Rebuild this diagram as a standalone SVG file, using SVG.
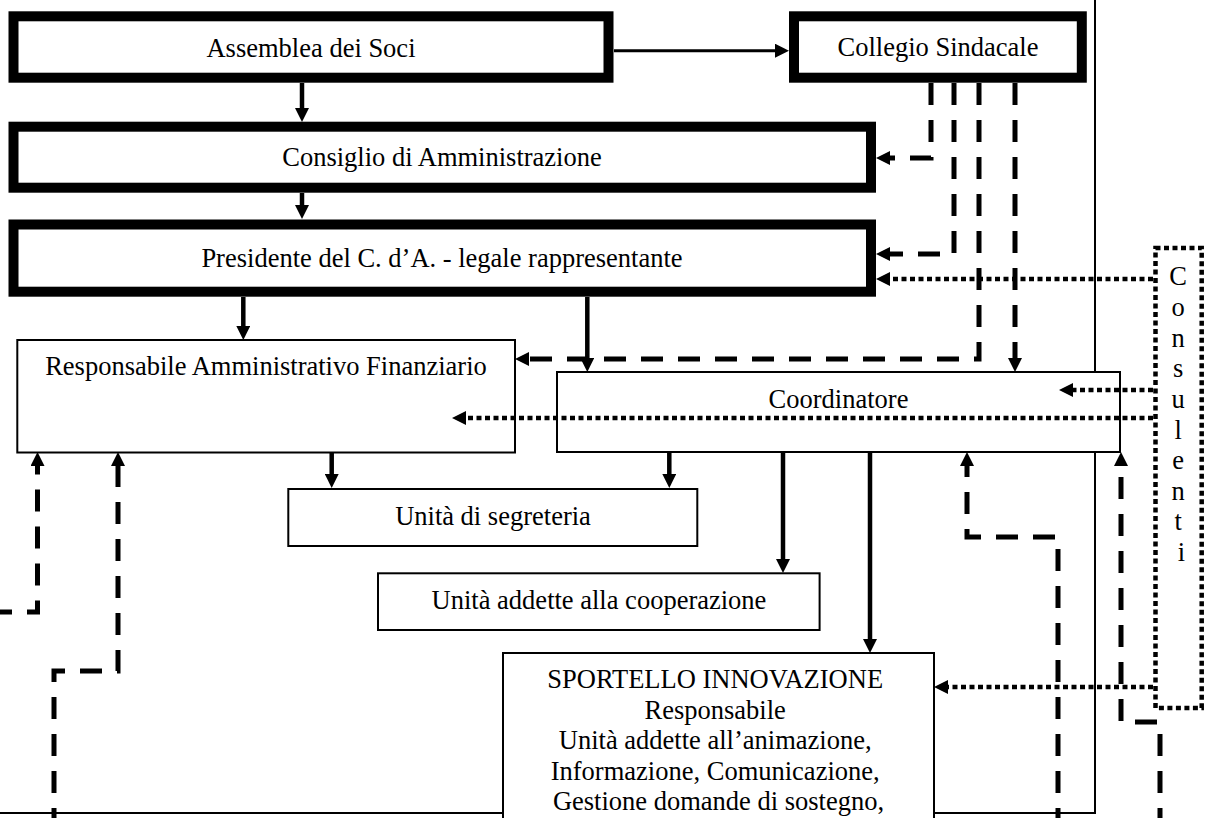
<svg xmlns="http://www.w3.org/2000/svg" width="1211" height="818" viewBox="0 0 1211 818">
<style>
  .thick { fill: #fff; stroke: #000; stroke-width: 10; }
  .thin { fill: #fff; stroke: #000; stroke-width: 2; }
  .lbl { font-family: "Liberation Serif", "Times New Roman", serif; font-size: 26.5px; fill: #000; text-anchor: middle; }
  .solid { fill: none; stroke: #000; stroke-width: 4.5; marker-end: url(#ah); }
  .solidthin { fill: none; stroke: #000; stroke-width: 3; marker-end: url(#ah); }
  .dash { fill: none; stroke: #000; stroke-width: 5; stroke-dasharray: 22 15; marker-end: url(#ah); }
  .dot { fill: none; stroke: #000; stroke-width: 4.5; stroke-dasharray: 5 3.5; marker-end: url(#ah); }
  .frame { fill: none; stroke: #000; stroke-width: 2; }
</style>
<defs>
  <marker id="ah" markerUnits="userSpaceOnUse" markerWidth="14" markerHeight="14" viewBox="0 0 14 14" refX="1" refY="7" orient="auto">
    <path d="M0,0 L14,7 L0,14 z" fill="#000" stroke="none"/>
  </marker>
</defs>
<rect width="1211" height="818" fill="#fff"/>
<g id="frame">
  <path class="frame" d="M1095,-5 V813 H-5"/>
</g>
<g id="assemblea">
  <rect class="thick" x="13.5" y="16.3" width="595" height="61.4"/>
  <text class="lbl" x="311" y="56.5">Assemblea dei Soci</text>
</g>
<g id="collegio">
  <rect class="thick" x="794" y="16.3" width="287.8" height="61.4"/>
  <text class="lbl" x="938" y="56">Collegio Sindacale</text>
</g>
<g id="consiglio">
  <rect class="thick" x="13.5" y="126.7" width="857.5" height="61"/>
  <text class="lbl" x="442" y="166">Consiglio di Amministrazione</text>
</g>
<g id="presidente">
  <rect class="thick" x="13.5" y="224.5" width="857.5" height="67.2"/>
  <text class="lbl" x="442" y="267">Presidente del C. d’A. - legale rappresentante</text>
</g>
<g id="raf">
  <rect class="thin" x="17.3" y="340" width="497.7" height="112.5"/>
  <text class="lbl" x="266" y="375">Responsabile Amministrativo Finanziario</text>
</g>
<g id="coordinatore">
  <rect class="thin" x="557" y="372" width="563" height="80"/>
  <text class="lbl" x="838.5" y="408">Coordinatore</text>
</g>
<g id="segreteria">
  <rect class="thin" x="288.3" y="489" width="409" height="57"/>
  <text class="lbl" x="493" y="525">Unità di segreteria</text>
</g>
<g id="cooperazione">
  <rect class="thin" x="378" y="573.3" width="441.6" height="56.7"/>
  <text class="lbl" x="599" y="609">Unità addette alla cooperazione</text>
</g>
<g id="sportello">
  <rect class="thin" x="503" y="653" width="431" height="180"/>
  <text class="lbl">
    <tspan x="718.5" y="688">SPORTELLO INNOVAZIONE</tspan>
    <tspan x="718.5" y="718.5">Responsabile</tspan>
    <tspan x="718.5" y="749">Unità addette all’animazione,</tspan>
    <tspan x="718.5" y="779.5">Informazione, Comunicazione,</tspan>
    <tspan x="718.5" y="810">Gestione domande di sostegno,</tspan>
  </text>
</g>
<g id="consulenti">
  <rect x="1155.5" y="248" width="46.2" height="460" fill="#fff" stroke="#000" stroke-width="4.5" stroke-dasharray="5 3.5"/>
  <text class="lbl">
    <tspan x="1181.5" y="285">C</tspan>
    <tspan x="1181.5" y="316">o</tspan>
    <tspan x="1181.5" y="346.5">n</tspan>
    <tspan x="1181.5" y="377">s</tspan>
    <tspan x="1181.5" y="408">u</tspan>
    <tspan x="1181.5" y="438.5">l</tspan>
    <tspan x="1181.5" y="469">e</tspan>
    <tspan x="1181.5" y="499.5">n</tspan>
    <tspan x="1181.5" y="530">t</tspan>
    <tspan x="1181.5" y="560.5">i</tspan>
  </text>
</g>
<g id="connectors">
  <path class="solidthin" d="M614,50.7 H776"/>
  <path class="solid" d="M302,83 V109"/>
  <path class="solid" d="M302,193 V206"/>
  <path class="solid" d="M243.3,297 V327"/>
  <path class="solid" d="M587.3,297 V359"/>
  <path class="solid" d="M331.7,452.5 V475"/>
  <path class="solid" d="M669.3,452 V475"/>
  <path class="solid" d="M783,452 V560"/>
  <path class="solid" d="M870,452 V640"/>
  <path class="dash" d="M931,83 V158 H889"/>
  <path class="dash" d="M954,83 V254 H889"/>
  <path class="dash" d="M979,83 V359 H528"/>
  <path class="dash" d="M1015,83 V359"/>
  <path class="dash" d="M1058,830 V537 H967 V465"/>
  <path class="dash" d="M1160,830 V722 H1121 V465"/>
  <path class="dash" d="M-10,612 H37.5 V465"/>
  <path class="dash" d="M54,830 V671 H118 V465"/>
  <path class="dot" d="M1153,279 H889"/>
  <path class="dot" d="M1153,390 H1072"/>
  <path class="dot" d="M1153,418 H465"/>
  <path class="dot" d="M1153,687 H947"/>
</g>
</svg>
